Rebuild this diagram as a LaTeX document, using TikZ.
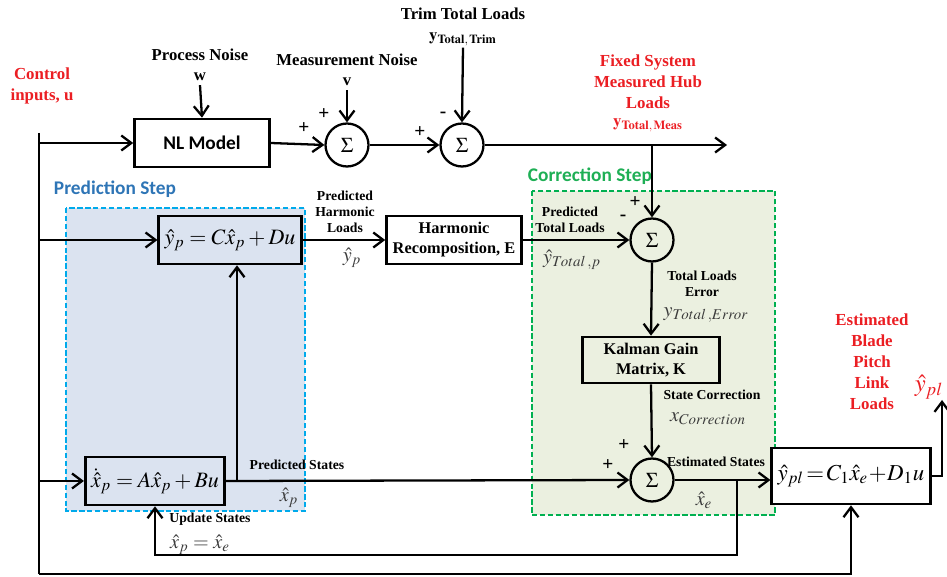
\documentclass[tikz,border=0pt]{standalone}
\usepackage{mathptmx}
\usepackage[no-math]{fontspec}
\setmainfont{Liberation Serif}
\newfontfamily\calibri{Carlito}
\usetikzlibrary{arrows.meta, positioning}

\definecolor{predfill}{RGB}{219,227,240}
\definecolor{predline}{RGB}{0,170,235}
\definecolor{predtext}{RGB}{46,117,182}
\definecolor{corrfill}{RGB}{235,240,224}
\definecolor{corrline}{RGB}{0,176,80}
\definecolor{corrtext}{RGB}{30,175,85}
\definecolor{outred}{RGB}{235,30,35}
\definecolor{mathgray}{RGB}{60,60,60}

\begin{document}
\begin{tikzpicture}[
    x=0.02cm, y=-0.02cm,
    sumnode/.style={circle, draw, line width=1.3pt, minimum size=0.86cm, inner sep=0pt, font=\large},
    block/.style={rectangle, draw, line width=1.5pt, align=center, font=\bfseries\fontsize{9.3}{11.3}\selectfont},
    lbl/.style={align=center, inner sep=1pt, font=\bfseries\fontsize{9.5}{11.5}\selectfont},
    small/.style={align=center, inner sep=1pt, font=\bfseries\fontsize{7.8}{9.2}\selectfont},
    redlbl/.style={align=center, inner sep=1pt, text=outred, font=\bfseries\fontsize{9.6}{12}\selectfont},
    steplbl/.style={inner sep=1pt, font=\calibri\bfseries\fontsize{11}{13}\selectfont},
    mathlbl/.style={inner sep=1pt, text=mathgray, font=\fontsize{11.5}{12}\selectfont},
    sign/.style={inner sep=0pt, font=\bfseries\fontsize{11}{11}\selectfont},
    arrow/.style={-{Straight Barb[length=2mm, width=3mm]}, line width=1.3pt},
    wire/.style={line width=1.3pt}
]
\useasboundingbox (0,0) rectangle (947,577);

% step regions
\filldraw[fill=predfill, draw=predline, dash pattern=on 3pt off 1.5pt, line width=1.1pt] (66,208) rectangle (305,511);
\filldraw[fill=corrfill, draw=corrline, dash pattern=on 3pt off 1.5pt, line width=1.1pt] (532,191) rectangle (775,515);
\node[steplbl, text=predtext] (predstep) at (115,189) {Prediction Step};
\node[steplbl, text=corrtext] (corrstep) at (590,176) {Correction Step};

% blocks
\node[block, font=\calibri\bfseries\fontsize{11}{13}\selectfont, minimum width=2.7cm, minimum height=0.96cm] (nl) at (202,143) {NL Model};
\node[sumnode] (sum1) at (347,145) {$\Sigma$};
\node[sumnode] (sum2) at (462,145) {$\Sigma$};
\node[block, minimum width=2.72cm, minimum height=0.96cm, font=\fontsize{12.5}{13}\selectfont] (yp) at (230,240) {$\hat{y}_p = C\hat{x}_p + Du$};
\node[block, fill=white, minimum width=2.7cm, minimum height=0.96cm] (harm) at (454,240) {Harmonic\\Recomposition, E};
\node[sumnode] (sum3) at (652,240) {$\Sigma$};
\node[block, minimum width=2.74cm, minimum height=0.92cm] (kal) at (651,360) {Kalman Gain\\Matrix, K};
\node[sumnode] (sum4) at (652,480) {$\Sigma$};
\node[block, minimum width=2.72cm, minimum height=0.96cm, font=\fontsize{12.5}{13}\selectfont] (xp) at (155,481) {$\dot{\hat{x}}_p = A\hat{x}_p + Bu$};
\node[block, fill=white, minimum width=2.76cm, minimum height=1.12cm, font=\fontsize{13}{14}\selectfont] (pl) at (851,476) {$\hat{y}_{pl} \!=\! C_1\hat{x}_e \!+\! D_1u$};

% labels
\node[redlbl] (ctrl) at (42,86) {Control\\inputs, u};
\node[lbl] (pnoise) at (200,65) {Process Noise\\w};
\node[lbl] (mnoise) at (347,70) {Measurement Noise\\v};
\node[lbl] (trim) at (463,14) {Trim Total Loads};
\node[lbl] (ytrim) at (463,39) {$\mathbf{y}_{\mathbf{Total,\,Trim}}$};
\node[redlbl] (hub) at (648,82) {Fixed System\\Measured Hub\\Loads};
\node[redlbl] (ymeas) at (648,125) {$\mathbf{y}_{\mathbf{Total,\,Meas}}$};
\node[small] (pharm) at (345,212) {Predicted\\Harmonic\\Loads};
\node[mathlbl] (ypl) at (352,258) {$\hat{y}_p$};
\node[small] (ptot) at (570,220) {Predicted\\Total Loads};
\node[mathlbl] (ytotp) at (572,260) {$\hat{y}_{Total\,,p}$};
\node[small] (err) at (702,284) {Total Loads\\Error};
\node[mathlbl] (yerr) at (706,315) {$y_{Total\,,Error}$};
\node[small] (scorr) at (712,395) {State Correction};
\node[mathlbl] (xcorr) at (708,419) {$x_{Correction}$};
\node[small] (est) at (716,462) {Estimated States};
\node[mathlbl] (xe) at (704,500) {$\hat{x}_e$};
\node[small] (pstates) at (297,465) {Predicted States};
\node[mathlbl] (xpl) at (289,498) {$\hat{x}_p$};
\node[small] (upd) at (210,519) {Update States};
\node[mathlbl] (xeq) at (200,545) {$\hat{x}_p = \hat{x}_e$};
\node[redlbl] (blade) at (872,362) {Estimated\\Blade\\Pitch\\Link\\Loads};
\node[inner sep=1pt, text=outred, font=\fontsize{14}{15}\selectfont] (yplout) at (929,387) {$\hat{y}_{pl}$};

% signs
\node[sign] at (304,128) {+};
\node[sign] at (324,114) {+};
\node[sign] at (420,132) {+};
\node[sign] at (443,115) {-};
\node[sign] at (635,202) {+};
\node[sign] at (623,218) {-};
\node[sign] at (624,445) {+};
\node[sign] at (608,465) {+};

% free ends
\coordinate (utop) at (39,133);
\coordinate (ubot) at (39,574);
\coordinate (measout) at (727,145);
\coordinate (msplit) at (652,145);
\coordinate (psplit) at (237,481);
\coordinate (fb) at (737,555);
\coordinate (ypout) at (942,400);

% connectors
\draw[arrow] (pnoise.south) ++(0,2) -- (nl.north);
\draw[arrow] (mnoise.south) ++(0,2) -- (sum1.north);
\draw[arrow] (ytrim.south) -- (sum2.north);
\draw[wire] (utop) -- (ubot);
\draw[arrow] (utop |- nl.west) -- (nl.west);
\draw[arrow] (nl.east) -- (sum1.west);
\draw[arrow] (sum1.east) -- (sum2.west);
\draw[arrow] (sum2.east) -- (measout);
\draw[arrow] (msplit) -- (sum3.north);
\draw[arrow] (utop |- yp.west) -- (yp.west);
\draw[arrow] (yp.east) -- (harm.west);
\draw[arrow] (harm.east) -- (sum3.west);
\draw[arrow] (sum3.south) -- (kal.north);
\draw[arrow] (kal.south) -- (sum4.north);
\draw[arrow] (utop |- xp.west) -- (xp.west);
\draw[arrow] (xp.east) -- (sum4.west);
\draw[arrow] (psplit) -- (psplit |- yp.south);
\draw[arrow] (sum4.east) -- (sum4.east -| pl.west);
\draw[arrow] (sum4.east -| fb) -- (fb) -| (xp.south);
\draw[arrow] (ubot) -| (pl.south);
\draw[arrow] (pl.east) -| (ypout);
\end{tikzpicture}
\end{document}
